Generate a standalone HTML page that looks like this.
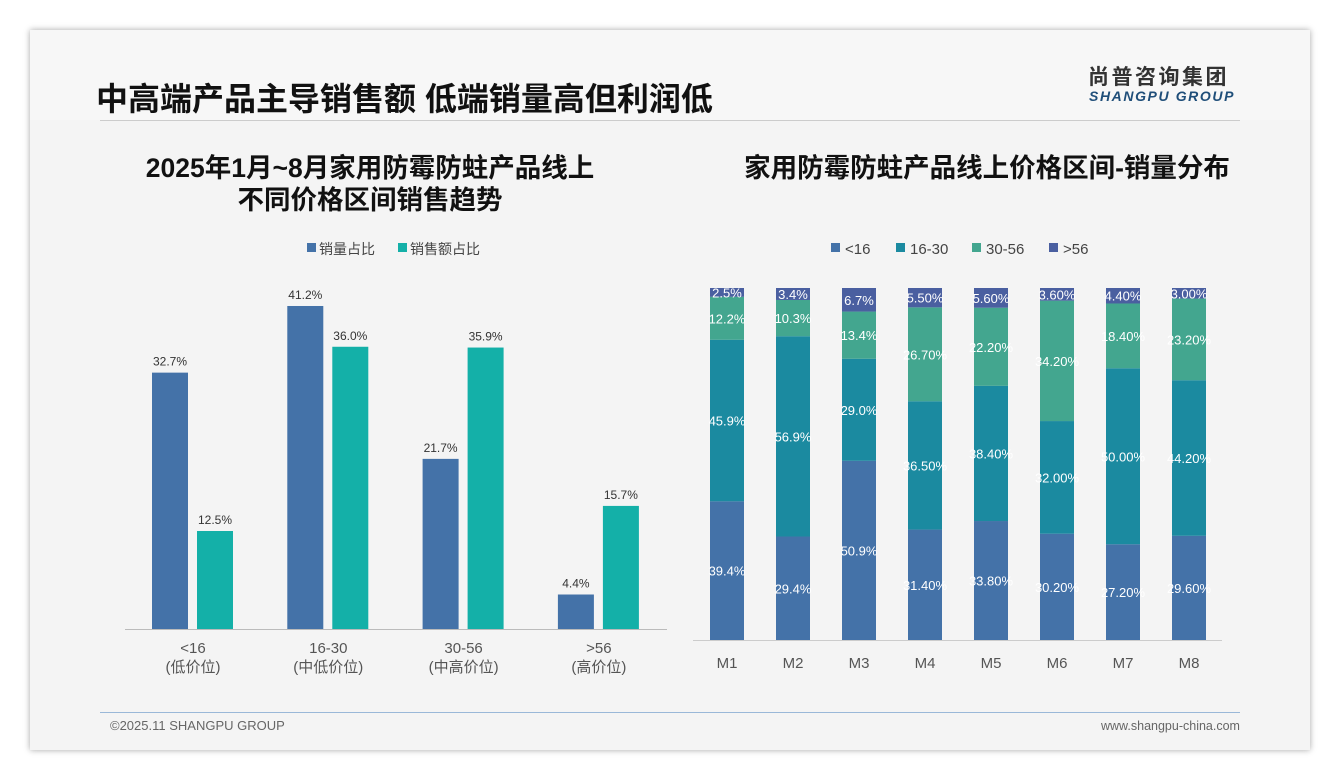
<!DOCTYPE html>
<html><head><meta charset="utf-8"><style>
body{margin:0;width:1340px;height:780px;background:#fff;font-family:"Liberation Sans","Noto Sans CJK SC",sans-serif;overflow:hidden}
#card{position:absolute;left:30px;top:30px;width:1280px;height:720px;background:#f4f4f4;box-shadow:0 0 6px rgba(0,0,0,.35)}
.abs{position:absolute}
</style></head><body>
<div id="card">
<div class="abs" style="left:0;top:0;width:1280px;height:90px;background:#f7f7f7"></div>
<div class="abs" style="left:66px;top:44px;font-size:32px;font-weight:bold;color:#111;white-space:nowrap">中高端产品主导销售额 低端销量高但利润低</div>
<div class="abs" style="left:1058px;top:35px;font-size:21px;line-height:26px;font-weight:bold;color:#333;letter-spacing:2.5px;white-space:nowrap">尚普咨询集团</div>
<div class="abs" style="left:1059px;top:58px;font-size:14px;line-height:16px;font-weight:bold;font-style:italic;color:#1f4e79;letter-spacing:1.6px;white-space:nowrap">SHANGPU GROUP</div>
<div class="abs" style="left:70px;top:90px;width:1140px;height:1px;background:#ccc"></div>
<div class="abs" style="left:70px;top:682px;width:1140px;height:1px;background:#9ab8d8"></div>
<div class="abs" style="left:80px;top:688px;font-size:13px;color:#666">©2025.11 SHANGPU GROUP</div>
<div class="abs" style="left:1071px;top:689px;font-size:12.5px;color:#666">www.shangpu-china.com</div>
</div>
<svg class="abs" style="left:0;top:0" width="1340" height="780" id="svg">
<text x="370" y="177" text-anchor="middle" font-size="26.5" font-weight="bold" fill="#111">2025年1月~8月家用防霉防蛀产品线上</text>
<text x="370" y="209" text-anchor="middle" font-size="26.5" font-weight="bold" fill="#111">不同价格区间销售趋势</text>
<text x="987" y="177" text-anchor="middle" font-size="26.5" font-weight="bold" fill="#111">家用防霉防蛀产品线上价格区间-销量分布</text>
<g id="left"></g><g id="right"></g>
</svg>
<script>
const ns="http://www.w3.org/2000/svg";
function mk(p,tag,at,txt){const e=document.createElementNS(ns,tag);for(const k in at)e.setAttribute(k,at[k]);if(txt!==undefined)e.textContent=txt;p.appendChild(e);return e;}
// left chart data
const leftCats=["<16","16-30","30-56",">56"];
const leftSub=["(低价位)","(中低价位)","(中高价位)","(高价位)"];
const volumeShare=[32.7,41.2,21.7,4.4];
const salesShare=[12.5,36.0,35.9,15.7];
// right chart data
const months=["M1","M2","M3","M4","M5","M6","M7","M8"];
const seriesNames=["<16","16-30","30-56",">56"];
const s1=[39.4,29.4,50.9,31.4,33.8,30.2,27.2,29.6];
const s2=[45.9,56.9,29.0,36.5,38.4,32.0,50.0,44.2];
const s3=[12.2,10.3,13.4,26.7,22.2,34.2,18.4,23.2];
const s4=[2.5,3.4,6.7,5.5,5.6,3.6,4.4,3.0];
const lbl1=["39.4%","29.4%","50.9%","31.40%","33.80%","30.20%","27.20%","29.60%"];
const lbl2=["45.9%","56.9%","29.0%","36.50%","38.40%","32.00%","50.00%","44.20%"];
const lbl3=["12.2%","10.3%","13.4%","26.70%","22.20%","34.20%","18.40%","23.20%"];
const lbl4=["2.5%","3.4%","6.7%","5.50%","5.60%","3.60%","4.40%","3.00%"];

const L=document.getElementById('left');
const base=629,ppu=7.84;
const ly=v=>base-v*ppu;
const lx=i=>188+i*135.3;
mk(L,'line',{x1:125,x2:667,y1:base+0.5,y2:base+0.5,stroke:'#bbb',});
let lg=mk(L,'g',{});
mk(lg,'rect',{x:307,y:243,width:9,height:9,fill:'#4472a8'});
mk(lg,'text',{x:319,y:254,'font-size':14,fill:'#444'},'销量占比');
mk(lg,'rect',{x:398,y:243,width:9,height:9,fill:'#14b0a8'});
mk(lg,'text',{x:410,y:254,'font-size':14,fill:'#444'},'销售额占比');
volumeShare.forEach((v,i)=>{
 const r=mk(L,'rect',{x:lx(i)-36,y:ly(v),width:36,height:v*ppu,fill:'#4472a8'});
 
 mk(L,'text',{x:lx(i)-18,y:ly(v)-7,'text-anchor':'middle','font-size':12,fill:'#333'},v.toFixed(1)+'%');
 const w=salesShare[i];
 const r2=mk(L,'rect',{x:lx(i)+9,y:ly(w),width:36,height:w*ppu,fill:'#14b0a8'});
 
 mk(L,'text',{x:lx(i)+27,y:ly(w)-7,'text-anchor':'middle','font-size':12,fill:'#333'},w.toFixed(1)+'%');
 mk(L,'text',{x:lx(i)+5,y:653,'text-anchor':'middle','font-size':15,fill:'#555'},leftCats[i]);
 mk(L,'text',{x:lx(i)+5,y:672,'text-anchor':'middle','font-size':15,fill:'#555'},leftSub[i]);
});

const R=document.getElementById('right');
const rb=640,rh=352;
const rx=i=>727+i*66;
mk(R,'line',{x1:693,x2:1222,y1:rb+0.5,y2:rb+0.5,stroke:'#ccc',});
const cols=['#4472a8','#1b8aa0','#43a68f','#4a5fa0'];
let rg=mk(R,'g',{});
const lxs=[831,896,972,1049];
seriesNames.forEach((n,k)=>{mk(rg,'rect',{x:lxs[k],y:243,width:9,height:9,fill:cols[k]});mk(rg,'text',{x:lxs[k]+14,y:254,'font-size':15,fill:'#444'},n);});
const S=[s1,s2,s3,s4],LB=[lbl1,lbl2,lbl3,lbl4];
months.forEach((m,i)=>{
 let tot=S.reduce((a,s)=>a+s[i],0),acc=0;
 S.forEach((s,k)=>{
  const h=s[i]/tot*rh,y=rb-acc-h;
  const r=mk(R,'rect',{x:rx(i)-17,y:y,width:34,height:h,fill:cols[k]});
  
  mk(R,'text',{x:rx(i),y:y+h/2+5,'text-anchor':'middle','font-size':13,fill:'#fff'},LB[k][i]);
  acc+=h;
 });
 mk(R,'text',{x:rx(i),y:668,'text-anchor':'middle','font-size':15,fill:'#555'},m);
});
</script>
</body></html>
